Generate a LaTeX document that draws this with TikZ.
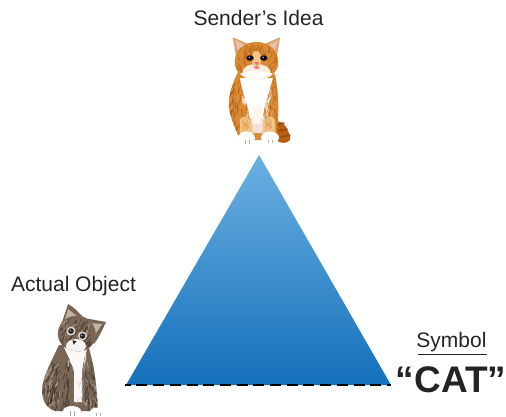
\documentclass[tikz,border=0pt]{standalone}
\usepackage{fontspec}
\setmainfont{Liberation Sans}
\definecolor{ink}{HTML}{262324}
\definecolor{triTop}{HTML}{6CB0E2}
\definecolor{triBot}{HTML}{1470BA}
\definecolor{oA}{HTML}{D98A35}
\definecolor{oB}{HTML}{B85F14}
\definecolor{oC}{HTML}{F2C48A}
\definecolor{oD}{HTML}{8E4A12}
\definecolor{gA}{HTML}{7A6655}
\definecolor{gB}{HTML}{352B25}
\definecolor{gC}{HTML}{C2B4A6}
\definecolor{pinkEar}{HTML}{E6BFB0}
\newcommand{\furpatch}[8]{% cx cy halfw halfh count colour angle length
  \pgfmathsetseed{#5}
  \foreach \i in {1,...,#5}{
    \pgfmathsetmacro{\fx}{#1+#3*rand}
    \pgfmathsetmacro{\fy}{#2+#4*rand}
    \pgfmathsetmacro{\fa}{#7+25*rand}
    \draw[#6,line width=0.8pt,opacity=0.6,line cap=round] (\fx,\fy) -- ++(\fa:#8);
  }
}
\tikzset{
  label text/.style={font=\fontsize{21}{25}\selectfont,text=ink,inner sep=0pt},
  big text/.style={font=\fontsize{37}{42}\selectfont\bfseries,text=ink,inner sep=0pt},
  stripe/.style={line width=1.4pt,line cap=round},
  base line/.style={draw=black,line width=2pt,dash pattern=on 11pt off 5.7pt,dash phase=5.3pt},
}
\begin{document}
\begin{tikzpicture}[x=1pt,y=-1pt]
\useasboundingbox (0,0) rectangle (506,416);
% triangle
\shade[top color=triTop,bottom color=triBot] (259,155) -- (391,385) -- (126,385) -- cycle;
\coordinate (baseL) at (125,385.3);
\coordinate (baseR) at (391,385.3);
\draw[base line] (baseL) -- (baseR);
% labels
\node[label text] (idea) at (258.5,18) {Sender’s Idea};
\node[label text] (object) at (73.5,286.5) {Actual Object};
\node[label text] (symbol) at (451.5,342) {Symbol};
\coordinate (ruleL) at (418,354);
\coordinate (ruleR) at (487,354);
\draw[draw=ink,line width=0.9pt] (ruleL) -- (ruleR);
\node[big text] (cat) at (451,380) {“CAT”};
% ---- orange kitten ----
% tail
\fill[oB] (274,122) .. controls (284,119) and (287,128) .. (290,136) .. controls (292,143) and (284,144) .. (279,142) -- (272,134) -- cycle;
\draw[oD,stripe] (277,125) -- (284,123) (279,131) -- (287,129) (281,137) -- (290,135);
% body
\begin{scope}
\path[clip] (238,72) .. controls (231,86) and (228,98) .. (229,108) .. controls (231,120) and (236,130) .. (240,140) -- (275,140) .. controls (279,125) and (280,100) .. (275,74) -- cycle;
\fill[oA] (225,70) rectangle (285,145);
\furpatch{238}{106}{9}{28}{45}{oB}{100}{6}
\furpatch{271}{106}{8}{28}{45}{oB}{80}{6}
\furpatch{234}{100}{5}{20}{18}{oD}{110}{5}
\furpatch{245}{120}{5}{14}{14}{oC}{90}{6}
\furpatch{270}{120}{5}{14}{14}{oC}{90}{6}
\end{scope}
% pale between the legs
\fill[pinkEar!50!white] (250,116) -- (264,116) -- (263,133) -- (252,133) -- cycle;
% white chest
\fill[white] (240,78) .. controls (242,92) and (247,100) .. (250,118) -- (263,118) .. controls (264,104) and (269,92) .. (273,78) -- cycle;
\furpatch{243.5}{90}{2.5}{10}{14}{white}{75}{6}
\furpatch{269}{90}{2.5}{10}{14}{white}{105}{6}
\furpatch{248}{108}{1.5}{8}{8}{white}{95}{6}
\furpatch{265}{108}{1.5}{8}{8}{white}{85}{6}
\fill[white!85!oC] (253,106) -- (261,106) -- (261,124) -- (253,124) -- cycle;
% front legs
\fill[oC] (240,119) .. controls (244,114) and (250,117) .. (252,126) -- (253,136) -- (240,136) -- cycle;
\fill[oC] (264,120) .. controls (268,114) and (276,115) .. (275,125) -- (275,136) -- (262,136) -- cycle;
\furpatch{246}{125}{4}{8}{10}{oA}{90}{5}
\furpatch{269}{125}{4}{8}{10}{oA}{90}{5}
% paws
\fill[white] (246.5,138) ellipse (8.5 and 6.5);
\fill[white] (270,137.5) ellipse (9 and 6);
\draw[gray!60,line width=0.4pt] (245,140) -- (245,144) (249,140) -- (249,144) (268,140) -- (268,143) (272,140) -- (272,143);
% ears
\fill[oA!55!pinkEar] (232.7,37.3) -- (237,62) -- (251,45) -- cycle;
\fill[oA!55!pinkEar] (280,37.3) -- (276,62) -- (262,45) -- cycle;
\fill[pinkEar] (235,40) -- (239,54) -- (247,46) -- cycle;
\fill[pinkEar] (278,40) -- (274,54) -- (266,46) -- cycle;
% head
\begin{scope}
\path[clip] (256.5,42) .. controls (272,42) and (280,54) .. (278,66) .. controls (275,76) and (264,80) .. (256.5,80) .. controls (249,80) and (238,76) .. (235,66) .. controls (233,54) and (241,42) .. (256.5,42) -- cycle;
\fill[oA] (230,40) rectangle (282,82);
\furpatch{256.5}{49}{17}{6}{40}{oB}{90}{5}
\furpatch{240}{62}{4}{8}{12}{oB}{60}{5}
\furpatch{273}{62}{4}{8}{12}{oB}{120}{5}
\fill[white!70!oC] (256.5,72) ellipse (14 and 8);
\fill[white] (256.5,76) ellipse (18 and 5);
\fill[oC] (256.5,59) ellipse (5 and 8);
\end{scope}
% eyes, nose, mouth
\fill[oD] (250,58) ellipse (4 and 3.2);
\fill[oD] (263.8,58) ellipse (4 and 3.2);
\fill[black!85!blue] (250,58) ellipse (3.2 and 2.5);
\fill[black!85!blue] (263.8,58) ellipse (3.2 and 2.5);
\fill[white] (249.3,57.3) circle (0.7);
\fill[white] (263.1,57.3) circle (0.7);
\fill[red!45!pinkEar] (254.5,62) -- (258.8,62) -- (256.7,65.5) -- cycle;
\fill[red!35!pinkEar] (256.7,67.5) ellipse (3 and 1.4);
% ---- grey kitten ----
% body
\begin{scope}
\path[clip] (59,345) .. controls (52,360) and (42,378) .. (42,390) .. controls (42,400) and (46,408) .. (55,411) -- (98,411) .. controls (97,395) and (96,370) .. (88,345) -- cycle;
\fill[gA] (38,340) rectangle (102,416);
\furpatch{51}{385}{10}{24}{70}{gB}{110}{6}
\furpatch{90}{385}{7}{26}{45}{gB}{80}{6}
\furpatch{66}{385}{4}{22}{24}{gB}{90}{6}
\furpatch{50}{385}{10}{24}{40}{gC}{110}{5}
\furpatch{90}{385}{7}{24}{20}{gC}{80}{5}
\end{scope}
% chest
\fill[white!92!gC] (64,347) .. controls (67,355) and (72,362) .. (74,372) -- (74,402) -- (82,402) -- (82,372) .. controls (83,362) and (85,354) .. (88,347) -- cycle;
\furpatch{68}{356}{2}{7}{8}{white}{70}{5}
\furpatch{84}{356}{2}{7}{8}{white}{110}{5}
\furpatch{78}{388}{5}{14}{8}{gC}{90}{6}
% paws
\fill[white] (72,411) ellipse (9 and 5);
\fill[white] (97,412) ellipse (7 and 4.5);
\draw[gray!70,line width=0.4pt] (70,411) -- (70,416) (74,411) -- (74,416) (96,413) -- (96,416) (100,413) -- (100,416);
% ears
\fill[gA] (68,304) -- (60,328) -- (84,318) .. controls (78,312) and (74,307) .. (68,304) -- cycle;
\fill[gA] (106,322) -- (84,318) -- (94,344) .. controls (100,336) and (103,328) .. (106,322) -- cycle;
\fill[gC] (68,309) -- (64,323) -- (78,317) -- cycle;
\fill[gC] (102,324) -- (89,323) -- (94,336) -- cycle;
% head
\begin{scope}
\path[clip] (80,316) .. controls (92,318) and (98,330) .. (95,340) .. controls (92,348) and (84,353) .. (74,351) .. controls (64,349) and (57,342) .. (58,332) .. controls (59,322) and (68,314) .. (80,316) -- cycle;
\fill[gA] (50,310) rectangle (100,356);
\furpatch{76}{326}{14}{9}{35}{gB}{115}{6}
\furpatch{64}{343}{6}{6}{12}{gB}{60}{5}
\furpatch{90}{343}{5}{6}{10}{gB}{130}{5}
\furpatch{76}{328}{14}{8}{18}{gC}{115}{5}
\fill[white!85!gC] (76,346) ellipse (10 and 7);
\end{scope}
% eyes and nose
\fill[gC!60!white] (71,331) circle (4.5);
\fill[gC!60!white] (82.5,336) circle (4.5);
\fill[black!85] (71,331) circle (2.8);
\fill[black!85] (82.5,336) circle (2.8);
\fill[white] (70.3,330.3) circle (0.6);
\fill[white] (81.8,335.3) circle (0.6);
\fill[gB] (72.5,340) -- (76.5,341.5) -- (73.5,344.5) -- cycle;
\end{tikzpicture}
\end{document}
